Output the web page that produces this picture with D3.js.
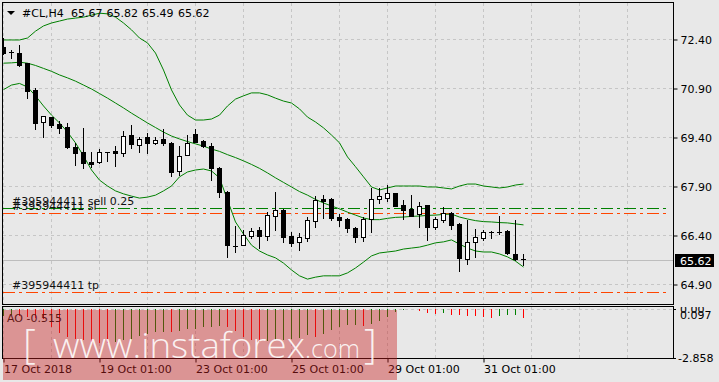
<!DOCTYPE html>
<html><head><meta charset="utf-8">
<script src="https://cdn.jsdelivr.net/npm/d3@7"></script>
<style>body{margin:0;background:#e8e8e8;}svg{display:block}</style>
</head><body>
<svg id="c" width="719" height="382"></svg>
<script>
// ---- data ----
const symbolTitle = "#CL,H4";
const titleValues = ["65.67","65.82","65.49","65.62"];
const openP  = [72.16,71.99,71.98,71.66,70.84,69.85,70.00,69.79,69.70,69.10,68.93,68.63,68.64,68.93,68.97,68.90,69.46,69.16,69.41,69.21,69.35,69.21,68.37,68.85,69.49,69.28,69.13,68.44,67.73,66.07,66.09,66.38,66.55,66.38,66.99,67.17,66.37,66.20,66.30,66.84,67.50,67.50,66.94,66.89,66.61,66.33,66.88,67.49,67.52,67.68,67.32,67.19,67.03,67.32,66.65,66.86,67.06,66.74,65.66,66.18,66.30,66.50,66.48,66.52,65.82,65.67];
const highP  = [72.42,72.06,72.22,71.68,70.89,70.04,70.02,69.90,69.82,69.21,69.67,68.93,69.03,68.94,69.12,69.58,69.77,69.41,69.51,69.41,69.64,69.25,69.12,69.46,69.64,69.30,69.21,68.49,67.75,66.68,66.55,66.60,66.64,67.10,67.73,67.19,66.50,66.45,66.96,67.59,67.62,67.53,67.04,66.92,66.63,66.96,67.83,67.83,67.93,67.70,67.47,67.62,67.40,67.33,66.96,67.25,67.10,66.76,66.86,66.58,66.55,66.52,66.98,66.54,66.86,65.82];
const lowP   = [71.95,71.81,71.58,70.60,69.64,69.41,69.72,69.53,69.07,68.54,68.44,68.49,68.59,68.67,68.51,68.82,69.05,68.93,68.92,69.18,69.15,68.22,68.24,68.84,69.24,69.10,68.08,67.57,65.72,65.89,66.08,66.30,66.01,66.25,66.55,66.20,66.06,65.94,66.23,66.64,66.91,66.86,66.68,66.49,66.18,66.22,66.48,67.37,67.45,67.28,66.89,66.98,66.65,66.25,66.58,66.79,66.58,65.31,65.50,65.74,66.24,66.32,66.43,65.83,65.63,65.49];
const closeP = [71.98,71.99,71.60,70.82,69.84,70.04,69.77,69.68,69.10,68.92,68.59,68.57,68.93,68.93,68.92,69.44,69.18,69.34,69.21,69.31,69.23,68.34,68.82,69.21,69.26,69.12,68.46,67.73,66.09,66.07,66.40,66.52,66.38,67.01,67.17,66.35,66.16,66.33,66.86,67.47,67.45,66.93,66.86,66.60,66.33,66.88,67.49,67.59,67.68,67.30,67.17,66.99,67.30,66.65,66.88,67.06,66.71,65.69,66.20,66.33,66.48,66.50,66.48,65.84,65.66,65.62];
const bbUpper = [72.37,72.37,72.37,72.43,72.64,72.80,72.89,72.95,73.01,73.04,73.07,73.13,73.19,73.17,73.07,72.89,72.68,72.43,72.28,71.97,71.45,70.84,70.38,70.07,69.92,69.92,69.95,70.07,70.35,70.56,70.66,70.75,70.75,70.69,70.59,70.50,70.44,70.26,70.01,69.86,69.68,69.46,69.22,68.79,68.49,68.18,67.87,67.78,67.84,67.90,67.90,67.90,67.90,67.87,67.87,67.84,67.81,67.90,67.96,67.96,67.90,67.87,67.84,67.87,67.93,67.96];
const bbMiddle = [71.66,71.67,71.69,71.66,71.59,71.50,71.41,71.30,71.21,71.11,70.99,70.87,70.73,70.59,70.44,70.29,70.13,69.98,69.83,69.69,69.55,69.43,69.34,69.26,69.19,69.12,69.03,68.96,68.86,68.77,68.67,68.56,68.44,68.30,68.15,68.01,67.87,67.73,67.62,67.49,67.38,67.29,67.20,67.10,67.01,66.92,66.87,66.87,66.91,66.94,66.95,66.97,66.98,67.00,67.01,67.03,67.04,66.95,66.89,66.84,66.81,66.80,66.78,66.77,66.74,66.71];
const bbLower = [70.85,70.99,71.04,70.93,70.66,70.35,70.07,69.83,69.55,69.22,68.82,68.39,68.08,67.90,67.75,67.66,67.59,67.53,67.56,67.62,67.75,67.90,68.18,68.33,68.39,68.42,68.36,68.15,67.47,66.80,66.43,66.09,65.91,65.79,65.70,65.54,65.33,65.15,65.05,65.11,65.15,65.15,65.15,65.24,65.39,65.57,65.76,65.85,65.88,65.91,65.97,66.00,66.03,66.09,66.16,66.19,66.25,66.12,66.00,65.91,65.88,65.88,65.82,65.73,65.60,65.42];
const aoValues = [-0.45,-0.38,-0.42,-0.46,-0.52,-0.62,-1.08,-1.41,-1.62,-1.75,-1.83,-1.91,-1.99,-2.01,-1.95,-1.83,-1.79,-1.58,-1.48,-1.37,-1.33,-1.37,-1.29,-1.20,-1.16,-1.08,-1.05,-1.01,-1.08,-1.29,-1.62,-1.79,-1.91,-1.87,-1.84,-1.81,-1.76,-1.70,-1.55,-1.64,-1.45,-1.25,-1.06,-0.96,-0.93,-1.00,-0.87,-0.73,-0.46,-0.21,-0.06,-0.03,-0.14,-0.23,-0.31,-0.25,-0.34,-0.39,-0.41,-0.43,-0.46,-0.53,-0.40,-0.39,-0.38,-0.515];
const aoBefore = -0.50;
const aoLabel = "AO -0.515";
const aoMax = 0.097, aoMin = -2.858;
const aoAxisLabels = ["0.00","0.097","-2.858"];
const priceTicks = [72.40,70.90,69.40,67.90,66.40,64.90];
const timeTickBars = [0,12,24,36,48,60];
const timeLabels = ["17 Oct 2018","19 Oct 01:00","23 Oct 01:00","25 Oct 01:00","29 Oct 01:00","31 Oct 01:00"];
const orderLabels = ["#395944411 sell 0.25","#395944411 sl","#395944411 tp"];
const orderPrices = [67.22,67.06,64.65];
const orderColors = ["#008000","#ff4500","#ff4500"];
const lastPrice = 65.62;

// ---- layout ----
const svg = d3.select("#c");
const L=3, R=673, T=3, B=304, aT=307, aB=358;
const FONT = "DejaVu Sans, Verdana, sans-serif";
const x = d3.scaleLinear().domain([0, 83.75]).range([L, R]);
const y = d3.scaleLinear().domain([64.288, 73.502]).range([B, T]);
const ya = d3.scaleLinear().domain([aoMin, aoMax]).range([aB, aT]);
const bars = d3.range(openP.length);

svg.append("rect").attr("width",719).attr("height",382).attr("fill","#e8e8e8");
const defs = svg.append("defs");
defs.append("clipPath").attr("id","cm").append("rect").attr("x",L).attr("y",T).attr("width",R-L).attr("height",B-T);
defs.append("clipPath").attr("id","ca").append("rect").attr("x",L).attr("y",aT).attr("width",R-L).attr("height",aB-aT);
defs.append("clipPath").attr("id","cr").append("rect").attr("x",R+1).attr("y",aT).attr("width",50).attr("height",aB-aT+10);

// grid
const grid = svg.append("g").attr("stroke","#c6c6c6").attr("stroke-dasharray","3,3").attr("fill","none");
const vgrid = d3.range(0, 84, 6).map(k => Math.round(x(k))+0.5);
grid.selectAll("line.v1").data(vgrid).join("line").attr("x1",d=>d).attr("x2",d=>d).attr("y1",T).attr("y2",B);
grid.selectAll("line.v2").data(vgrid).join("line").attr("class","v2").attr("x1",d=>d).attr("x2",d=>d).attr("y1",aT).attr("y2",aB);
grid.selectAll("line.h").data(priceTicks).join("line").attr("class","h").attr("x1",L).attr("x2",R).attr("y1",d=>Math.round(y(d))+0.5).attr("y2",d=>Math.round(y(d))+0.5);
grid.append("line").attr("x1",L).attr("x2",R+3).attr("y1",Math.round(ya(0))+0.5).attr("y2",Math.round(ya(0))+0.5);

const main = svg.append("g").attr("clip-path","url(#cm)");
// bid line
main.append("line").attr("x1",L).attr("x2",R).attr("y1",Math.round(y(lastPrice))+0.5).attr("y2",Math.round(y(lastPrice))+0.5).attr("stroke","#bdbdbd");

// order lines
main.selectAll("line.ord").data(orderPrices).join("line").attr("class","ord")
  .attr("x1",L).attr("x2",669).attr("y1",d=>Math.round(y(d))+0.5).attr("y2",d=>Math.round(y(d))+0.5)
  .attr("stroke",(d,i)=>orderColors[i]).attr("stroke-dasharray","12,4,3,4");

// bollinger
[bbUpper,bbMiddle,bbLower].forEach(arr=>{
  main.append("path").datum(arr).attr("fill","none").attr("stroke","#008000").attr("stroke-width",1)
    .attr("d", d3.line().x((d,i)=>x(i)+0.5).y(d=>y(d)));
});

// candles
const cx = i => Math.round(x(i));
main.selectAll("line.wick").data(bars).join("line").attr("class","wick")
  .attr("x1",i=>cx(i)+0.5).attr("x2",i=>cx(i)+0.5)
  .attr("y1",i=>Math.round(y(highP[i]))).attr("y2",i=>Math.round(y(lowP[i]))+1)
  .attr("stroke","#000");
bars.forEach(i=>{
  const t = Math.round(y(Math.max(openP[i],closeP[i])));
  const b = Math.round(y(Math.min(openP[i],closeP[i])));
  const X = cx(i);
  if (b - t < 2) {
    main.append("line").attr("x1",X-2).attr("x2",X+3).attr("y1",t+0.5).attr("y2",t+0.5).attr("stroke","#000");
  } else if (closeP[i] >= openP[i]) {
    main.append("rect").attr("x",X-1.5).attr("y",t+0.5).attr("width",4).attr("height",b-t)
      .attr("fill","#fff").attr("stroke","#000");
  } else {
    main.append("rect").attr("x",X-2).attr("y",t).attr("width",5).attr("height",b-t+1).attr("fill","#000");
  }
});

// order labels
svg.selectAll("text.ol").data(orderLabels).join("text").attr("class","ol")
  .attr("x",12).attr("y",(d,i)=>Math.round(y(orderPrices[i]))-3)
  .attr("font-family",FONT).attr("font-size",11).attr("fill","#111").text(d=>d);

// AO histogram
const aoG = svg.append("g").attr("clip-path","url(#ca)");
aoG.selectAll("line").data(aoValues).join("line")
  .attr("x1",(d,i)=>cx(i)+0.5).attr("x2",(d,i)=>cx(i)+0.5)
  .attr("y1",Math.round(ya(0))).attr("y2",d=>Math.round(ya(d)))
  .attr("stroke",(d,i)=> d > (i ? aoValues[i-1] : aoBefore) ? "#008000" : "#ff0000");

// borders
svg.append("rect").attr("x",L-0.5).attr("y",T-0.5).attr("width",R-L+1).attr("height",B-T+1).attr("fill","none").attr("stroke","#000");
svg.append("rect").attr("x",L-0.5).attr("y",aT-0.5).attr("width",R-L+1).attr("height",aB-aT+1).attr("fill","none").attr("stroke","#000");

// price axis
const ax = svg.append("g").attr("transform",`translate(${R+0.5},0.5)`)
  .call(d3.axisRight(y).tickValues(priceTicks).tickSize(4).tickFormat(d3.format(".2f")));
ax.select(".domain").remove();
ax.selectAll("text").attr("font-family",FONT).attr("font-size",11).attr("fill","#000").attr("x",7);
ax.selectAll("line").attr("stroke","#000");

// last price label
const lpY = Math.round(y(lastPrice));
svg.append("rect").attr("x",675).attr("y",lpY-6).attr("width",39).attr("height",13).attr("fill","#000");
svg.append("text").attr("x",680).attr("y",lpY+4.5).attr("font-family",FONT).attr("font-size",11).attr("fill","#fff").text(d3.format(".2f")(lastPrice));

// AO axis labels
const aoAx = svg.append("g").attr("font-family",FONT).attr("font-size",11).attr("fill","#000");
aoAx.append("text").attr("clip-path","url(#cr)").attr("x",680).attr("y",Math.round(ya(0))+4).text(aoAxisLabels[0]);
aoAx.append("text").attr("x",680).attr("y",Math.round(ya(aoMax))+12).text(aoAxisLabels[1]);
aoAx.append("text").attr("x",678).attr("y",Math.round(ya(aoMin))+4).text(aoAxisLabels[2]);
svg.selectAll("line.aot").data([ya(0), ya(aoMin)]).join("line").attr("class","aot")
  .attr("x1",R).attr("x2",R+3).attr("y1",d=>Math.round(d)+0.5).attr("y2",d=>Math.round(d)+0.5).attr("stroke","#000");
svg.append("text").attr("x",7).attr("y",322).attr("font-family",FONT).attr("font-size",11).attr("fill","#111").text(aoLabel);

// time axis
const tx = svg.append("g").attr("transform",`translate(0.5,${aB+0.5})`)
  .call(d3.axisBottom(x).tickValues(timeTickBars).tickSize(4).tickFormat((d,i)=>timeLabels[i]));
tx.select(".domain").remove();
tx.selectAll("line").attr("stroke","#000");
tx.selectAll("text").attr("font-family",FONT).attr("font-size",11).attr("fill","#000")
  .attr("text-anchor","start").attr("dx",0);

// title
svg.append("path").attr("d","M7,11 L15,11 L11,15 Z").attr("fill","#000");
const tPos = [22, 71, 106.5, 142, 178];
svg.selectAll("text.tt").data([symbolTitle].concat(titleValues)).join("text").attr("class","tt")
  .attr("x",(d,i)=>tPos[i]).attr("y",16.5).attr("font-family",FONT).attr("font-size",11).attr("fill","#000").text(d=>d);

// watermark
const wm = svg.append("g");
wm.append("rect").attr("x",3).attr("y",310).attr("width",394).attr("height",70).attr("fill","rgb(200,30,30)").attr("fill-opacity",0.42);
const wf = "Open Sans, Lato, sans-serif";
wm.append("text").attr("x",23).attr("y",358).attr("font-family",wf).attr("font-weight",300).attr("font-size",40).attr("fill","#fff").attr("fill-opacity",0.88).text("[");
wm.append("text").attr("x",53).attr("y",358).attr("font-family",wf).attr("font-weight",300).attr("font-size",34).attr("fill","#fff").attr("fill-opacity",0.88)
  .attr("textLength",252).attr("lengthAdjust","spacingAndGlyphs").text("www.instaforex");
wm.append("text").attr("x",305).attr("y",358).attr("font-family",wf).attr("font-weight",300).attr("font-size",26).attr("fill","#fff").attr("fill-opacity",0.88)
  .attr("textLength",55).attr("lengthAdjust","spacingAndGlyphs").text(".com");
wm.append("text").attr("x",364).attr("y",358).attr("font-family",wf).attr("font-weight",300).attr("font-size",40).attr("fill","#fff").attr("fill-opacity",0.88).text("]");
</script>
</body></html>
